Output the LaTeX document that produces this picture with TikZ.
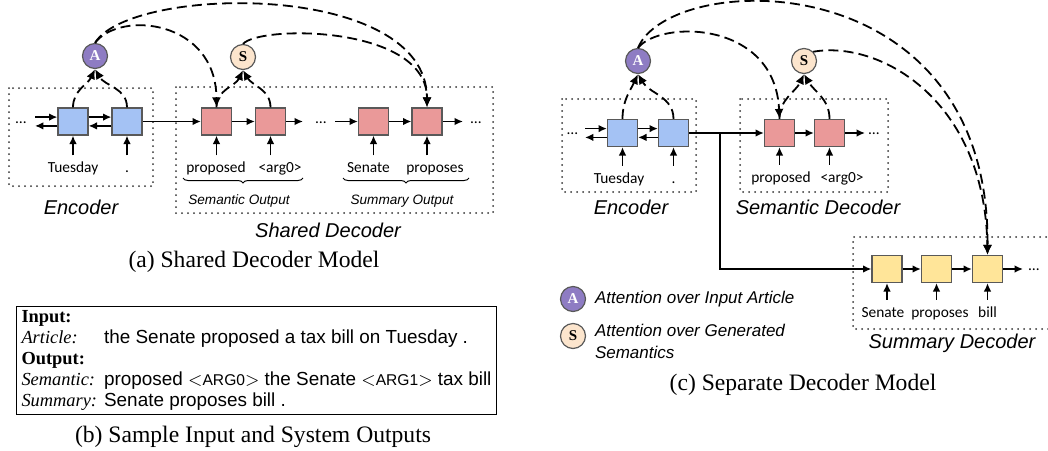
\documentclass[tikz,border=0pt]{standalone}
\usepackage{fontspec}
\setmainfont{Liberation Serif}
\setsansfont{Liberation Sans}
\newfontfamily\wordfont{Carlito}
\usetikzlibrary{arrows.meta, positioning, calc, decorations.pathreplacing}
\definecolor{encblue}{HTML}{A4C2F4}
\definecolor{decred}{HTML}{EA9999}
\definecolor{sumyellow}{HTML}{FFE599}
\definecolor{attpurple}{HTML}{8E7CC3}
\definecolor{sempeach}{HTML}{FCE5CD}
\definecolor{boxedge}{HTML}{595959}
\newcommand\argsize{\fontsize{7.8}{9}\selectfont}
\newcommand\sampletext[1]{{\sffamily\fontsize{9.45}{10.5}\selectfont #1}}

\begin{document}
\begin{tikzpicture}[x=0.5pt, y=-0.5pt,
  cellbox/.style={draw=boxedge, line width=0.6pt, minimum width=15pt, minimum height=13.5pt, inner sep=0pt},
  encbox/.style={cellbox, fill=encblue},
  decbox/.style={cellbox, fill=decred},
  sumbox/.style={cellbox, fill=sumyellow},
  word/.style={font={\wordfont\fontsize{7.7}{9}\selectfont}, inner sep=0pt, text height=6pt, text depth=1.8pt},
  ellip/.style={word, anchor=base},
  attn/.style={circle, draw=boxedge, line width=0.6pt, minimum size=12.5pt, inner sep=0pt, font={\bfseries\fontsize{7.5}{8}\selectfont}},
  dotframe/.style={draw=black!80, line width=1pt, dash pattern=on 0pt off 3pt, line cap=round},
  flow/.style={-{Latex[length=4.2pt,width=3.8pt]}, line width=0.8pt},
  attend/.style={-{Latex[length=5pt,width=4.5pt]}, line width=0.9pt, dash pattern=on 5pt off 2.6pt},
  parttag/.style={font={\sffamily\itshape\fontsize{10}{12}\selectfont}},
  subtag/.style={font={\sffamily\itshape\fontsize{6.8}{8}\selectfont}},
  legtext/.style={font={\sffamily\itshape\fontsize{8.5}{11}\selectfont}, inner sep=0pt, align=left},
  captext/.style={font={\fontsize{11.8}{14}\selectfont}}
]
  \useasboundingbox (0,0) rectangle (1048,450);

  % (a) shared decoder
  \draw[dotframe] (9,88) rectangle (153,186);
  \draw[dotframe] (176,87) rectangle (493,213);

  \node[encbox] (enc1) at (73,121.5) {};
  \node[encbox] (enc2) at (127,121.5) {};
  \node[decbox] (sem1) at (216.5,121.5) {};
  \node[decbox] (sem2) at (270.5,121.5) {};
  \node[decbox] (sum1) at (373.5,121.5) {};
  \node[decbox] (sum2) at (427,121.5) {};

  \node[ellip] (encdots) at (21,123) {\ldots};
  \node[ellip] (middots) at (321,123) {\ldots};
  \node[ellip] (enddots) at (476,123) {\ldots};
  \coordinate (encin) at (35,121.5);
  \coordinate (semout) at (303,121.5);
  \coordinate (sumin) at (335,121.5);
  \coordinate (sumout) at (463,121.5);

  \draw[flow] ([yshift=2.2pt]encin) -- ([yshift=2.2pt]enc1.west);
  \draw[flow] ([yshift=-2.2pt]enc1.west) -- ([yshift=-2.2pt]encin);
  \draw[flow] ([yshift=2.2pt]enc1.east) -- ([yshift=2.2pt]enc2.west);
  \draw[flow] ([yshift=-2.2pt]enc2.west) -- ([yshift=-2.2pt]enc1.east);
  \draw[flow] (enc2.east) -- (sem1.west);
  \draw[flow] (sem1.east) -- (sem2.west);
  \draw[flow] (sem2.east) -- (semout);
  \draw[flow] (sumin) -- (sum1.west);
  \draw[flow] (sum1.east) -- (sum2.west);
  \draw[flow] (sum2.east) -- (sumout);

  \node[word] (tue) at (73,168.5) {Tuesday};
  \node[word] (stop) at (127,168.5) {.};
  \node[word] (prop) at (216,168.5) {proposed};
  \node[word] (arg) at (280,168.5) {<arg0>};
  \node[word] (sen) at (368.5,168.5) {Senate};
  \node[word] (props) at (435,168.5) {proposes};
  \draw[flow, shorten <=2.5pt] (tue.north) -- (enc1.south);
  \draw[flow, shorten <=2.5pt] (stop.north) -- (enc2.south);
  \draw[flow, shorten <=2.5pt] (sem1.south |- prop.north) -- (sem1.south);
  \draw[flow, shorten <=2.5pt] (sem2.south |- arg.north) -- (sem2.south);
  \draw[flow, shorten <=2.5pt] (sum1.south |- sen.north) -- (sum1.south);
  \draw[flow, shorten <=2.5pt] (sum2.south |- props.north) -- (sum2.south);

  \node[attn, fill=attpurple, text=white] (attA) at (95,56) {A};
  \node[attn, fill=sempeach] (attS) at (243,57) {S};
  \draw[attend] (enc1.north) to[out=90, in=-115] (attA.south);
  \draw[attend] (enc2.north) to[out=90, in=-60] (attA.south);
  \draw[attend] (sem1.north) to[out=90, in=-115] (attS.south);
  \draw[attend] (sem2.north) to[out=90, in=-60] (attS.south);
  \draw[attend] (attA.north) .. controls (120,10) and (216,20) .. (sem1.north);
  \draw[attend] (attA.north) .. controls (130,-15) and (427,-20) .. (sum2.north);
  \draw[attend] (attS.north) .. controls (260,25) and (427,25) .. (sum2.north);

  \draw[decorate, decoration={brace, mirror, amplitude=2.5pt}, line width=0.5pt] (183,178) -- (303,178);
  \draw[decorate, decoration={brace, mirror, amplitude=2.5pt}, line width=0.5pt] (343,178) -- (469,178);
  \node[subtag] (semlab) at (239,201) {Semantic Output};
  \node[subtag] (sumlab) at (402,201) {Summary Output};
  \node[parttag] (enclab) at (81,207) {Encoder};
  \node[parttag] (declab) at (328,230) {Shared Decoder};
  \node[captext] (capa) at (254,262) {(a) Shared Decoder Model};

  % (b) sample
  \node[draw, line width=0.5pt, anchor=north west, inner xsep=2.5pt, inner ysep=0.8pt,
        font={\fontsize{9.2}{10.5}\selectfont}] (sample) at (16,306) {%
    \begin{tabular}{@{}l@{\hspace{3.5pt}}l@{}}
      \textbf{Input:} & \\
      \textit{Article:} & \sampletext{the Senate proposed a tax bill on Tuesday .}\\
      \textbf{Output:} & \\
      \textit{Semantic:} & \sampletext{proposed $<${\argsize ARG0}$>$ the Senate $<${\argsize ARG1}$>$ tax bill}\\
      \textit{Summary:} & \sampletext{Senate proposes bill .}
    \end{tabular}};
  \node[captext] (capb) at (253,437) {(b) Sample Input and System Outputs};

  % (c) separate decoders
  \draw[dotframe] (562,99) rectangle (696,192);
  \draw[dotframe] (740,99) rectangle (888,192);
  \draw[dotframe] (1052,237) -- (853,237) -- (853,329) -- (1052,329);

  \node[encbox] (enc3) at (622.5,133) {};
  \node[encbox] (enc4) at (673.5,133) {};
  \node[decbox] (sem3) at (779.5,133) {};
  \node[decbox] (sem4) at (829.5,133) {};
  \node[sumbox] (sum3) at (887,269) {};
  \node[sumbox] (sum4) at (936.5,269) {};
  \node[sumbox] (sum5) at (987.5,269) {};

  \node[ellip] (encdots2) at (572.5,134.5) {\ldots};
  \node[ellip] (semdots) at (874,134.5) {\ldots};
  \node[ellip] (sumdots) at (1034,270.5) {\ldots};
  \coordinate (encin2) at (585,133);
  \coordinate (split) at (720,133);
  \coordinate (semout2) at (865,133);
  \coordinate (sumout2) at (1023,269);

  \draw[flow] ([yshift=2.2pt]encin2) -- ([yshift=2.2pt]enc3.west);
  \draw[flow] ([yshift=-2.2pt]enc3.west) -- ([yshift=-2.2pt]encin2);
  \draw[flow] ([yshift=2.2pt]enc3.east) -- ([yshift=2.2pt]enc4.west);
  \draw[flow] ([yshift=-2.2pt]enc4.west) -- ([yshift=-2.2pt]enc3.east);
  \draw[flow] (enc4.east) -- (sem3.west);
  \draw[flow] (split) |- (sum3.west);
  \draw[flow] (sem3.east) -- (sem4.west);
  \draw[flow] (sem4.east) -- (semout2);
  \draw[flow] (sum3.east) -- (sum4.west);
  \draw[flow] (sum4.east) -- (sum5.west);
  \draw[flow] (sum5.east) -- (sumout2);

  \node[word] (tue2) at (619,179) {Tuesday};
  \node[word] (stop2) at (673.5,179) {.};
  \node[word] (prop2) at (781,178) {proposed};
  \node[word] (arg2) at (842,178) {<arg0>};
  \node[word] (sen2) at (883,313) {Senate};
  \node[word] (props2) at (940,313) {proposes};
  \node[word] (bill) at (987.5,313) {bill};
  \draw[flow, shorten <=2.5pt] (enc3.south |- tue2.north) -- (enc3.south);
  \draw[flow, shorten <=2.5pt] (stop2.north) -- (enc4.south);
  \draw[flow, shorten <=2.5pt] (sem3.south |- prop2.north) -- (sem3.south);
  \draw[flow, shorten <=2.5pt] (sem4.south |- arg2.north) -- (sem4.south);
  \draw[flow, shorten <=2.5pt] (sum3.south |- sen2.north) -- (sum3.south);
  \draw[flow, shorten <=2.5pt] (sum4.south |- props2.north) -- (sum4.south);
  \draw[flow, shorten <=2.5pt] (bill.north) -- (sum5.south);

  \node[attn, fill=attpurple, text=white] (attA2) at (638,61) {A};
  \node[attn, fill=sempeach] (attS2) at (804,61) {S};
  \draw[attend] (enc3.north) to[out=90, in=-115] (attA2.south);
  \draw[attend] (enc4.north) to[out=90, in=-60] (attA2.south);
  \draw[attend] (sem3.north) to[out=90, in=-115] (attS2.south);
  \draw[attend] (sem4.north) to[out=90, in=-60] (attS2.south);
  \draw[attend] (attA2.north) .. controls (660,20) and (775,20) .. (sem3.north);
  \draw[attend] (attA2.north) .. controls (670,-30) and (990,-40) .. (sum5.north);
  \draw[attend] (attS2.north east) .. controls (880,40) and (985,100) .. (sum5.north);

  \node[parttag] (enclab2) at (631,207) {Encoder};
  \node[parttag] (semdec) at (818,207) {Semantic Decoder};
  \node[parttag] (sumdec) at (952,343) {Summary Decoder};

  \node[attn, fill=attpurple, text=white] (keyA) at (573,299) {A};
  \node[attn, fill=sempeach] (keyS) at (573,336) {S};
  \node[legtext, right=4.25pt of keyA] (keyAtext) {Attention over Input Article};
  \node[legtext, right=4.25pt of keyS, yshift=-2.5pt] (keyStext) {Attention over Generated\\Semantics};
  \node[captext] (capc) at (803,385) {(c) Separate Decoder Model};
\end{tikzpicture}
\end{document}
